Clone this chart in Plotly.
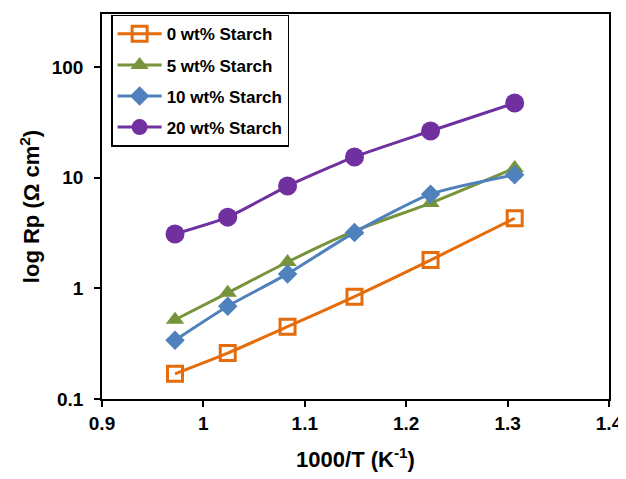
import plotly.graph_objects as go

x_vals = [0.972, 1.024, 1.083, 1.149, 1.224, 1.307]
rp_0 = [0.169, 0.26, 0.45, 0.84, 1.8, 4.3]
rp_5 = [0.52, 0.91, 1.73, 3.3, 5.9, 12.2]
rp_10 = [0.34, 0.69, 1.35, 3.2, 7.1, 10.6]
rp_20 = [3.1, 4.4, 8.4, 15.4, 26.4, 47.3]
names = ["0 wt% Starch", "5 wt% Starch", "10 wt% Starch", "20 wt% Starch"]
x_ticks = [0.9, 1.0, 1.1, 1.2, 1.3, 1.4]
x_tick_text = ["0.9", "1", "1.1", "1.2", "1.3", "1.4"]
y_ticks = [0.1, 1, 10, 100]
y_tick_text = ["0.1", "1", "10", "100"]

colors = ["#E46C0A", "#77933C", "#4F81BD", "#7030A0"]
series = [rp_0, rp_5, rp_10, rp_20]
symbols = ["square-open", "triangle-up", "diamond", "circle"]
sizes = [15, 16, 15, 19]

fig = go.Figure()
for i, (name, ys) in enumerate(zip(names, series)):
    marker = dict(symbol=symbols[i], size=sizes[i], color=colors[i])
    if symbols[i] == "square-open":
        marker["line"] = dict(width=3, color=colors[i])
    fig.add_trace(go.Scatter(
        x=x_vals, y=ys, name=name, mode="lines+markers",
        line=dict(color=colors[i], width=3, shape="spline", smoothing=0.6),
        marker=marker, legendgroup=name,
    ))

font_family = "Liberation Sans, Arial, sans-serif"
# page body has an 8px default margin, so the figure is drawn 8px in from the corner
fig.update_layout(
    template="none",
    width=618, height=471,
    margin=dict(l=94, r=17, t=6, b=80),
    paper_bgcolor="white", plot_bgcolor="white",
    font=dict(family=font_family, color="black"),
    showlegend=True,
    legend=dict(
        x=0.018, y=0.998, xanchor="left", yanchor="top",
        bordercolor="black", borderwidth=1.5, bgcolor="white",
        font=dict(size=17, family=font_family, weight="bold"),
        tracegroupgap=6, traceorder="grouped", itemwidth=44,
    ),
)
fig.update_xaxes(
    range=[0.9, 1.4], tickvals=x_ticks, ticktext=x_tick_text,
    showline=True, linecolor="black", linewidth=1.5, mirror=True,
    ticks="outside", ticklen=6, tickcolor="black", tickwidth=1.5,
    showgrid=False, zeroline=False, automargin=False,
    ticklabelstandoff=0,
    tickfont=dict(size=19, weight="bold"),
    title=dict(text="1000/T (K<sup>-1</sup>)", font=dict(size=22, weight="bold"), standoff=19),
)
fig.update_yaxes(
    type="log", range=[-1, 2.479], tickvals=y_ticks, ticktext=y_tick_text,
    showline=True, linecolor="black", linewidth=1.5, mirror=True,
    ticks="outside", ticklen=6, tickcolor="black", tickwidth=1.5,
    showgrid=False, zeroline=False, automargin=False,
    ticklabelstandoff=7,
    tickfont=dict(size=19, weight="bold"),
    title=dict(text="log Rp (Ω cm<sup>2</sup>)", font=dict(size=22, weight="bold"), standoff=6),
)
fig.write_html("out.html")
